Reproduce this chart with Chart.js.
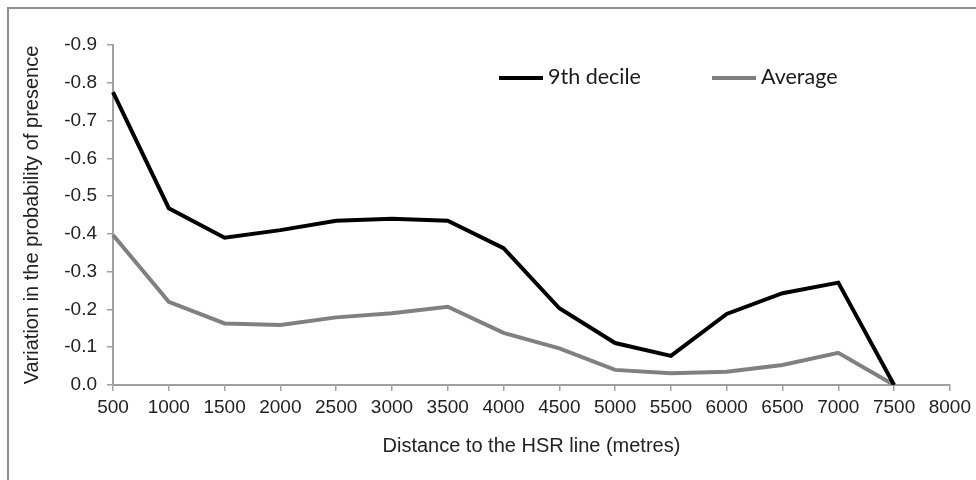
<!DOCTYPE html>
<html>
<head>
<meta charset="utf-8">
<script src="https://cdn.jsdelivr.net/npm/chart.js@4.4.1/dist/chart.umd.min.js"></script>
<style>
    body { margin: 0; background: #fff; }
    #wrap { position: relative; width: 976px; height: 480px; overflow: hidden; }
    #frame {
        position: absolute; left: 7px; top: 7px; width: 990px; height: 490px;
        border-left: 2px solid #8e8e8e; border-top: 2px solid #8e8e8e;
    }
    #chart { position: absolute; left: 0; top: 0; }
    #legend {
        position: absolute; top: 63px; left: 499px;
        font-family: Lato, "Open Sans", sans-serif; font-size: 21.5px; color: #1a1a1a;
    }
    .item { position: absolute; top: 0; white-space: nowrap; }
    .swatch { display: inline-block; width: 44px; height: 4px; vertical-align: middle; margin-right: 5px; position: relative; top: -1px; }
</style>
</head>
<body>
<div id="wrap">
    <div id="frame"></div>
    <canvas id="chart" width="976" height="480"></canvas>
    <div id="legend"></div>
</div>
<script>
// distance to the HSR line (metres)
const distances = ['500', '1000', '1500', '2000', '2500', '3000', '3500', '4000',
    '4500', '5000', '5500', '6000', '6500', '7000', '7500', '8000'];

const seriesNames = ['9th decile', 'Average'];
const seriesColors = ['#000000', '#808080'];

const decile9 = [-0.775, -0.468, -0.39, -0.41, -0.435, -0.44, -0.435, -0.362,
    -0.203, -0.111, -0.077, -0.188, -0.243, -0.271, 0, null];
const average = [-0.397, -0.22, -0.163, -0.159, -0.179, -0.19, -0.207, -0.138,
    -0.097, -0.04, -0.031, -0.035, -0.053, -0.085, 0, null];

const yMin = -0.9;
const yMax = 0;
const yStep = 0.1;

const fontFamily = '"Liberation Sans", Arial, sans-serif';
const tickFont = { family: fontFamily, size: 19 };
const titleFont = { family: fontFamily, size: 20 };
const axisGrey = '#a0a0a0';

function buildLegend() {
    const legend = document.getElementById('legend');
    const offsets = [0, 213];
    legend.innerHTML = seriesNames.map((name, i) => `
        <div class="item" style="left:${offsets[i]}px">
            <span class="swatch" style="background:${seriesColors[i]}"></span>${name}
        </div>
    `).join('');
}

function buildChart() {
    const ctx = document.getElementById('chart').getContext('2d');
    new Chart(ctx, {
        type: 'line',
        data: {
            labels: distances,
            datasets: [decile9, average].map((values, i) => ({
                label: seriesNames[i],
                data: values,
                borderColor: seriesColors[i],
                backgroundColor: seriesColors[i],
                borderWidth: 4,
                pointRadius: 0,
                tension: 0,
                fill: false,
                spanGaps: false
            }))
        },
        options: {
            responsive: false,
            animation: false,
            layout: { padding: { left: 0, right: 25, top: 45, bottom: 0 } },
            plugins: {
                legend: { display: false },
                tooltip: { enabled: false }
            },
            scales: {
                x: {
                    type: 'category',
                    offset: false,
                    afterFit: (scale) => { scale.height = 95; },
                    border: { display: true, color: axisGrey, width: 2 },
                    grid: { display: true, drawOnChartArea: false, drawTicks: true, tickLength: 6, color: axisGrey, lineWidth: 1.5 },
                    ticks: { color: '#222', font: tickFont, autoSkip: false, maxRotation: 0, padding: 5 },
                    title: {
                        display: true,
                        text: 'Distance to the HSR line (metres)',
                        color: '#222',
                        font: titleFont,
                        padding: { top: 0, bottom: 22 }
                    }
                },
                y: {
                    reverse: true,
                    min: yMin,
                    max: yMax,
                    afterFit: (scale) => { scale.width = 113; },
                    border: { display: true, color: axisGrey, width: 2 },
                    grid: { display: true, drawOnChartArea: false, drawTicks: true, tickLength: 6, color: axisGrey, lineWidth: 1.5 },
                    ticks: {
                        stepSize: yStep,
                        color: '#222',
                        font: tickFont,
                        padding: 10,
                        callback: (v) => Number(v).toFixed(1)
                    },
                    title: {
                        display: true,
                        text: 'Variation in the probability of presence',
                        color: '#222',
                        font: titleFont,
                        padding: { top: 20, bottom: 0 }
                    }
                }
            }
        }
    });
}

document.addEventListener('DOMContentLoaded', () => {
    buildLegend();
    buildChart();
});
</script>
</body>
</html>
